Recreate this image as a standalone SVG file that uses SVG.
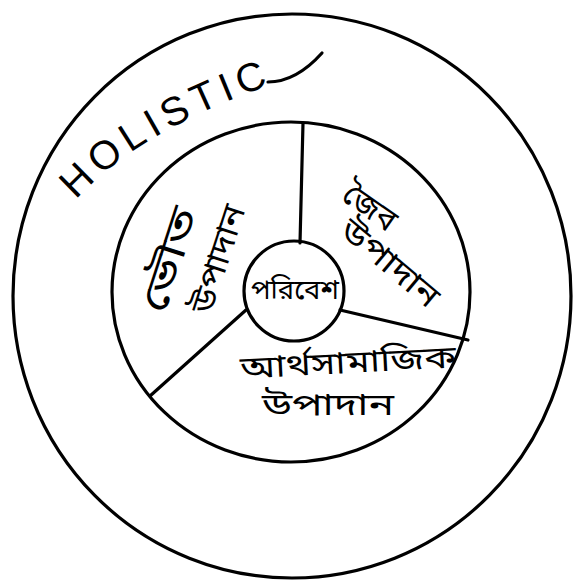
<svg xmlns="http://www.w3.org/2000/svg" width="579" height="585" viewBox="0 0 579 585">
<style>
.ln{fill:none;stroke:#000;stroke-width:3.2;stroke-linecap:round;stroke-linejoin:round}
.bn{font-family:"Noto Sans Bengali","Noto Sans",sans-serif;fill:#000}
.en{font-family:"Liberation Sans",Arial,sans-serif;fill:#000}
</style>
<defs>
<path id="arc" d="M76 200 Q140 128 290 78"/>
</defs>
<rect width="579" height="585" fill="#fff"/>
<g id="outer">
<ellipse class="ln" cx="292" cy="296" rx="279" ry="282"/>
<text class="en" font-size="40" letter-spacing="6"><textPath href="#arc">HOLISTIC</textPath></text>
<path class="ln" d="M268 82 Q296 82 322 53"/>
</g>
<g id="inner">
<ellipse class="ln" cx="291" cy="292" rx="179" ry="170"/>
</g>
<g id="connectors">
<path class="ln" d="M303 123 L300 243"/>
<path class="ln" d="M340 310 L468 340"/>
<path class="ln" d="M246 310 L150 396"/>
</g>
<g id="physical">
<text class="bn" x="170" y="272" font-size="38" text-anchor="middle" textLength="108" lengthAdjust="spacingAndGlyphs" transform="rotate(-72 170 260)">ভৌত</text>
<text class="bn" x="218" y="270" font-size="32" text-anchor="middle" textLength="112" lengthAdjust="spacingAndGlyphs" transform="rotate(-72 218 259)">উপাদান</text>
</g>
<g id="biotic">
<text class="bn" x="370" y="218" font-size="32" text-anchor="middle" transform="rotate(35 370 207)">জৈব</text>
<text class="bn" x="390" y="274" font-size="32" text-anchor="middle" textLength="118" lengthAdjust="spacingAndGlyphs" transform="rotate(40 390 263)">উপাদান</text>
</g>
<g id="socio">
<text class="bn" x="348" y="373" font-size="31" text-anchor="middle" textLength="216" lengthAdjust="spacingAndGlyphs" transform="rotate(-3 348 362)">আর্থসামাজিক</text>
<text class="bn" x="328" y="415" font-size="31" text-anchor="middle" textLength="132" lengthAdjust="spacingAndGlyphs">উপাদান</text>
</g>
<g id="center">
<circle class="ln" cx="294" cy="291" r="50"/>
<text class="bn" x="295" y="299" font-size="27" text-anchor="middle" textLength="88" lengthAdjust="spacingAndGlyphs">পরিবেশ</text>
</g>
</svg>
